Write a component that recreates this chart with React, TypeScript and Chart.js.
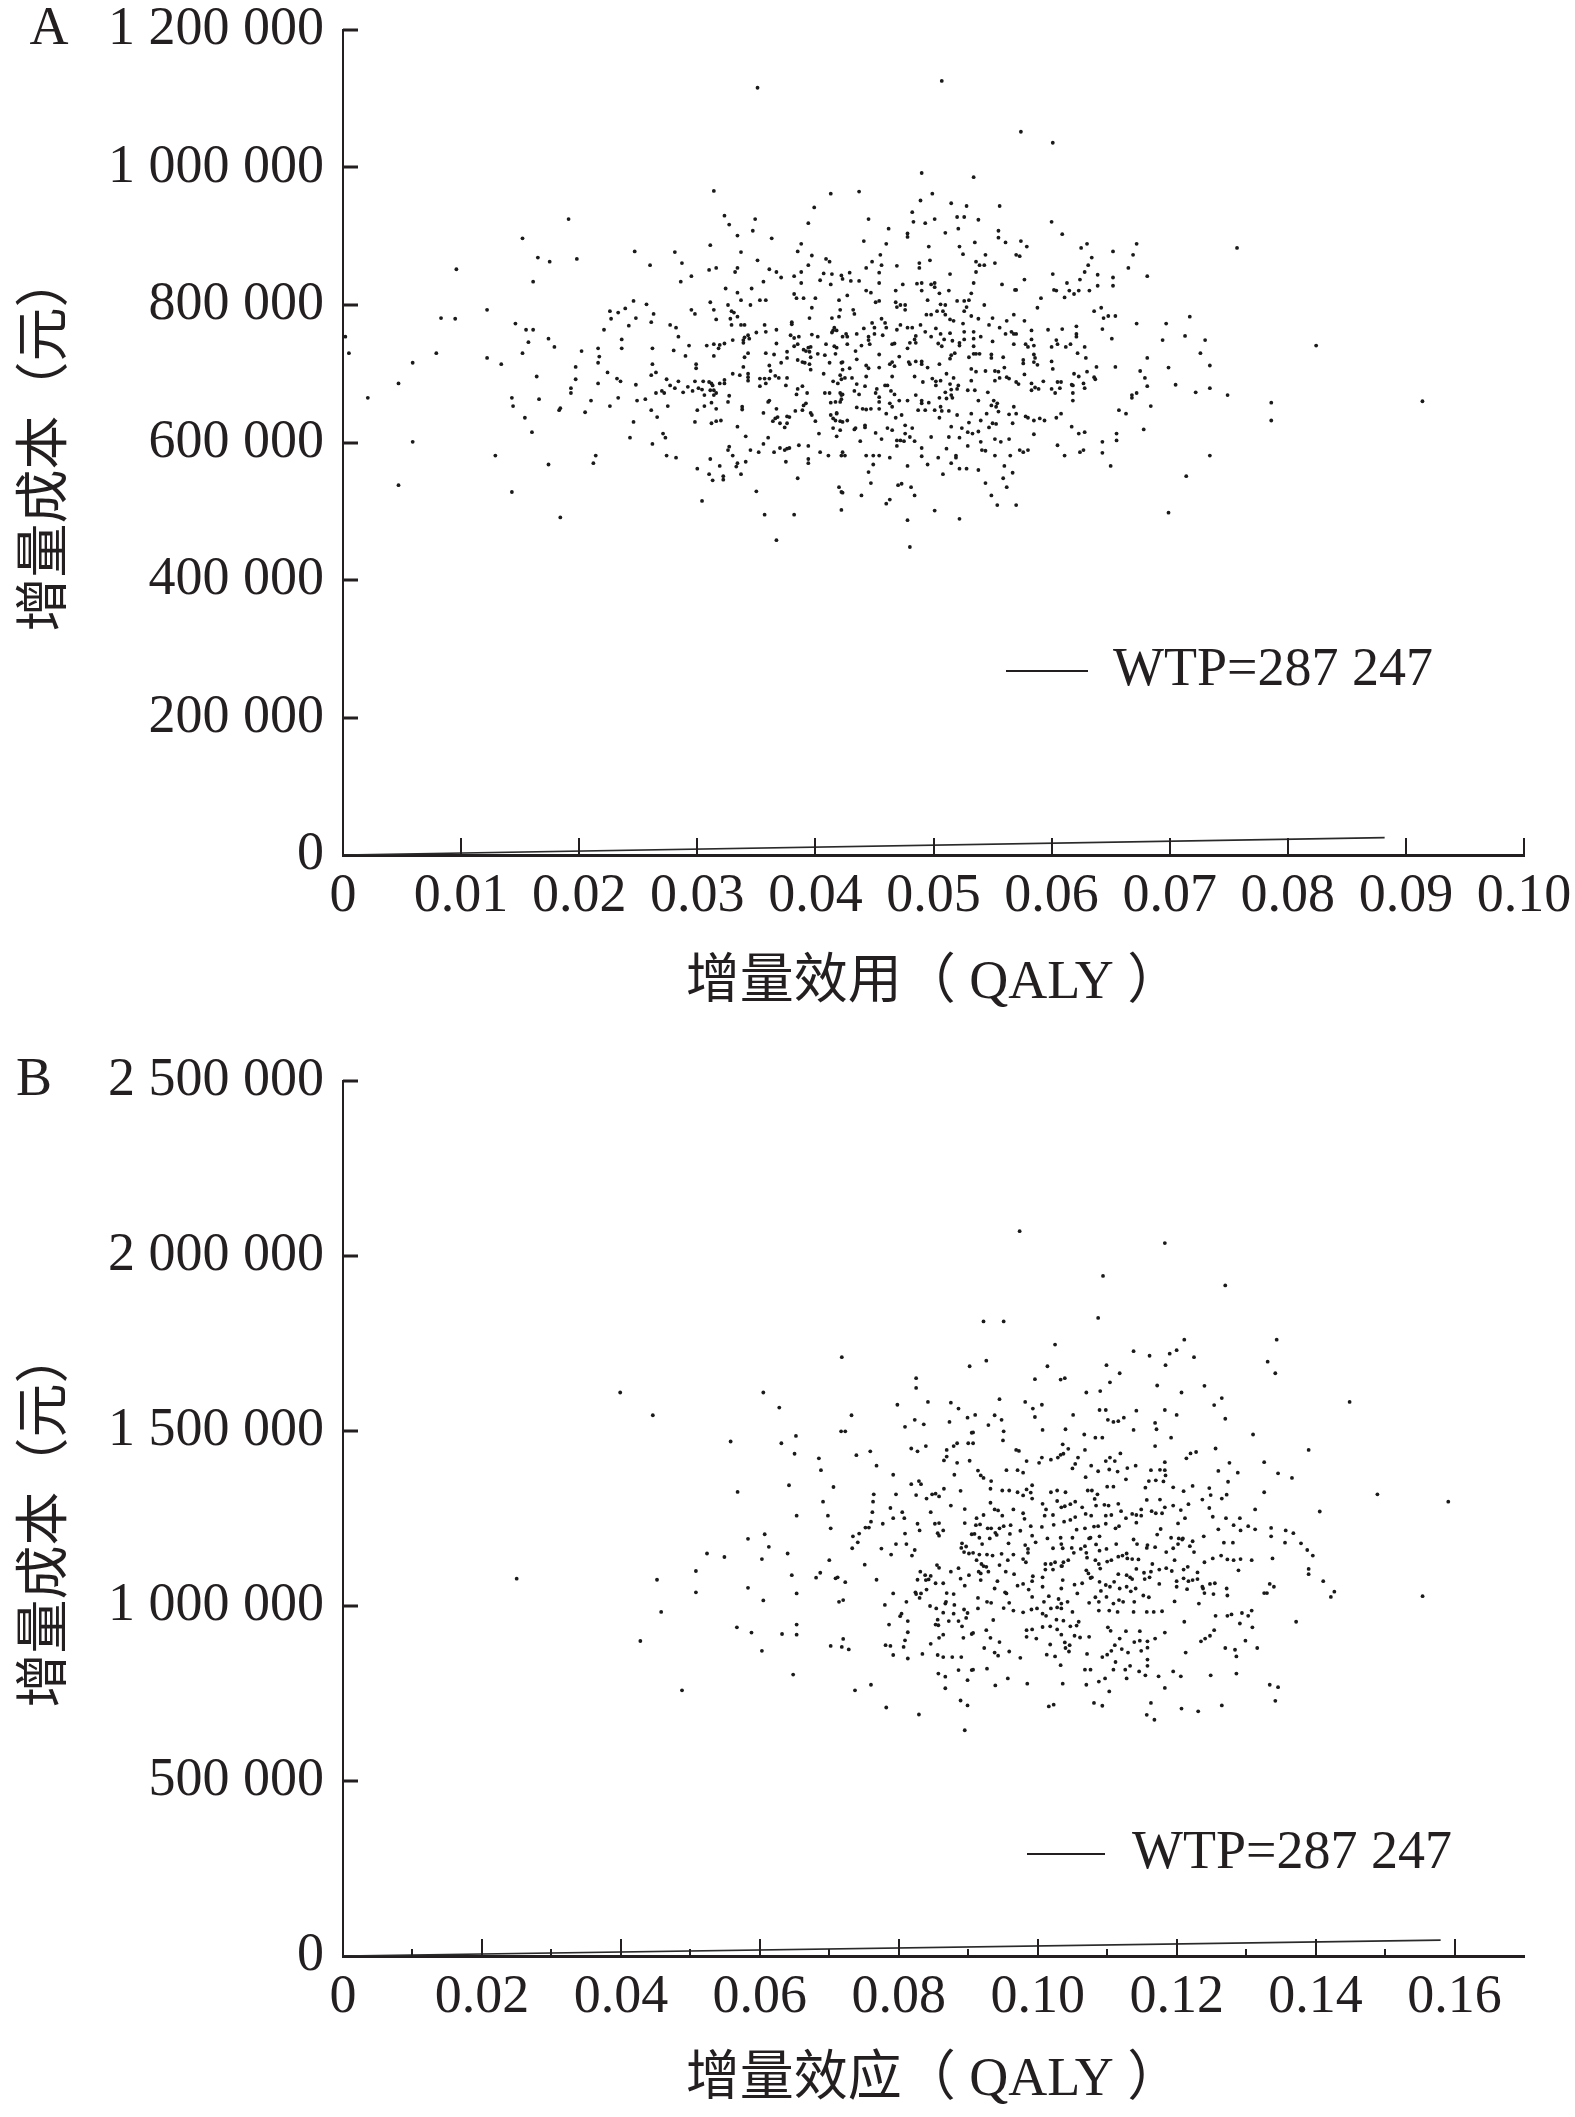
import React, { useEffect, useRef } from "react";
import { Chart, registerables } from "chart.js";

Chart.register(...registerables);

// ---------------- data ----------------
// Panel A: incremental utility (QALY) vs incremental cost (thousand yuan)
const xTicksA = [0, 0.01, 0.02, 0.03, 0.04, 0.05, 0.06, 0.07, 0.08, 0.09, 0.1];
const yTicksA = [0, 200000, 400000, 600000, 800000, 1000000, 1200000];
// Panel B: incremental effect (QALY) vs incremental cost (thousand yuan)
const xTicksB = [0, 0.02, 0.04, 0.06, 0.08, 0.1, 0.12, 0.14, 0.16];
const xMinorB = [0.01, 0.03, 0.05, 0.07, 0.09, 0.11, 0.13, 0.15];
const yTicksB = [0, 500000, 1000000, 1500000, 2000000, 2500000];

const wtpLabel = "WTP=287 247";
const wtpLineA: [number, number][] = [[0, 0], [0.0882, 25335]];
const wtpLineB: [number, number][] = [[0, 0], [0.158, 45385]];

const simA: [number, number][] = [
[0.0351,1116],[0.0314,966],[0.0413,962],[0.0399,942],[0.0323,930],[0.0191,925],[0.0349,925],[0.0394,919],[0.0327,917],[0.0347,908],[0.0334,901],[0.0152,897],[0.0363,897],[0.0311,887],[0.0388,889],[0.0385,878],[0.0247,878],[0.0281,877],[0.0337,877],[0.0165,869],[0.0198,867],[0.0351,865],[0.0175,863],[0.0287,861],[0.0260,858],[0.0409,867],[0.0397,872],[0.0394,858],[0.0412,863],[0.0096,852],[0.0310,851],[0.0316,854],[0.0334,854],[0.0332,848],[0.0295,842],[0.0361,852],[0.0367,848],[0.0371,840],[0.0382,842],[0.0388,848],[0.0407,846],[0.0414,845],[0.0422,843],[0.0161,834],[0.0286,834],[0.0356,834],[0.0388,832],[0.0404,836],[0.0413,830],[0.0324,824],[0.0346,824],[0.0334,818],[0.0382,816],[0.0384,810],[0.0390,810],[0.0400,810],[0.0353,807],[0.0358,807],[0.0337,807],[0.0345,800],[0.0326,800],[0.0311,804],[0.0420,807],[0.0246,806],[0.0257,801],[0.0122,793],[0.0295,793],[0.0314,793],[0.0397,796],[0.0421,793],[0.0329,791],[0.0331,789],[0.0263,787],[0.0298,787],[0.0083,781],[0.0095,780],[0.0226,791],[0.0233,789],[0.0239,795],[0.0227,780],[0.0248,781],[0.0334,783],[0.0328,780],[0.0316,779],[0.0395,781],[0.0414,781],[0.0420,783],[0.0002,754],[0.0146,773],[0.0261,775],[0.0277,771],[0.0282,767],[0.0242,770],[0.0380,775],[0.0380,772],[0.0329,771],[0.0337,771],[0.0340,771],[0.0357,771],[0.0416,767],[0.0418,763],[0.0155,764],[0.0161,764],[0.0221,764],[0.0350,760],[0.0358,761],[0.0367,764],[0.0343,756],[0.0340,753],[0.0344,751],[0.0379,756],[0.0382,752],[0.0386,754],[0.0397,757],[0.0402,754],[0.0409,743],[0.0414,760],[0.0415,763],[0.0284,754],[0.0330,749],[0.0339,749],[0.0339,745],[0.0174,751],[0.0236,750],[0.0157,746],[0.0179,739],[0.0308,741],[0.0314,743],[0.0319,742],[0.0323,744],[0.0318,737],[0.0293,741],[0.0367,744],[0.0382,740],[0.0385,743],[0.0390,735],[0.0394,738],[0.0396,739],[0.0392,733],[0.0395,732],[0.0416,740],[0.0418,738],[0.0005,730],[0.0079,730],[0.0152,730],[0.0202,733],[0.0216,737],[0.0236,737],[0.0262,737],[0.0280,734],[0.0314,726],[0.0290,726],[0.0358,730],[0.0365,728],[0.0376,732],[0.0343,730],[0.0340,724],[0.0402,729],[0.0408,727],[0.0417,729],[0.0396,724],[0.0122,723],[0.0059,716],[0.0134,714],[0.0217,725],[0.0216,716],[0.0262,714],[0.0299,714],[0.0299,708],[0.0371,716],[0.0376,723],[0.0385,720],[0.0389,717],[0.0391,716],[0.0395,714],[0.0412,716],[0.0422,716],[0.0361,712],[0.0339,710],[0.0197,710],[0.0396,706],[0.0423,706],[0.0224,702],[0.0265,702],[0.0261,698],[0.0362,704],[0.0407,700],[0.0421,698],[0.0330,700],[0.0336,698],[0.0343,700],[0.0343,695],[0.0343,690],[0.0353,693],[0.0357,693],[0.0361,693],[0.0366,697],[0.0369,694],[0.0376,694],[0.0047,686],[0.0164,696],[0.0197,692],[0.0232,693],[0.0235,689],[0.0216,686],[0.0248,684],[0.0274,692],[0.0284,689],[0.0298,689],[0.0305,689],[0.0310,688],[0.0312,686],[0.0313,683],[0.0319,686],[0.0323,691],[0.0323,686],[0.0353,682],[0.0358,686],[0.0375,683],[0.0415,689],[0.0419,686],[0.0422,692],[0.0193,679],[0.0193,672],[0.0277,683],[0.0281,679],[0.0292,681],[0.0296,675],[0.0301,679],[0.0304,677],[0.0311,676],[0.0314,676],[0.0316,672],[0.0288,673],[0.0265,672],[0.0270,675],[0.0272,672],[0.0385,678],[0.0389,682],[0.0393,672],[0.0408,672],[0.0412,672],[0.0421,672],[0.0422,669],[0.0021,665],[0.0143,665],[0.0166,663],[0.0210,661],[0.0233,665],[0.0249,661],[0.0256,663],[0.0306,669],[0.0314,669],[0.0327,668],[0.0384,670],[0.0422,663],[0.0144,653],[0.0184,650],[0.0183,647],[0.0226,653],[0.0261,647],[0.0275,653],[0.0300,647],[0.0306,653],[0.0312,658],[0.0316,649],[0.0326,659],[0.0338,652],[0.0338,648],[0.0360,659],[0.0361,661],[0.0367,649],[0.0383,646],[0.0390,654],[0.0392,657],[0.0413,658],[0.0417,659],[0.0421,659],[0.0418,642],[0.0205,644],[0.0154,636],[0.0266,637],[0.0298,630],[0.0312,628],[0.0316,631],[0.0320,632],[0.0356,643],[0.0366,635],[0.0368,637],[0.0370,628],[0.0374,622],[0.0376,638],[0.0378,637],[0.0376,628],[0.0364,631],[0.0389,647],[0.0396,643],[0.0397,640],[0.0400,631],[0.0413,640],[0.0415,635],[0.0417,632],[0.0421,631],[0.0418,643],[0.0246,630],[0.0160,615],[0.0334,623],[0.0341,609],[0.0360,607],[0.0356,598],[0.0403,613],[0.0415,621],[0.0418,609],[0.0421,618],[0.0243,607],[0.0271,613],[0.0273,607],[0.0059,601],[0.0262,598],[0.0129,581],[0.0214,581],[0.0212,570],[0.0174,568],[0.0274,581],[0.0282,578],[0.0327,594],[0.0326,589],[0.0330,581],[0.0345,589],[0.0352,586],[0.0365,586],[0.0370,592],[0.0374,589],[0.0376,591],[0.0378,592],[0.0386,596],[0.0394,595],[0.0404,586],[0.0411,581],[0.0422,581],[0.0311,576],[0.0334,570],[0.0341,572],[0.0394,576],[0.0394,570],[0.0375,572],[0.0300,562],[0.0319,566],[0.0333,565],[0.0337,554],[0.0310,554],[0.0322,551],[0.0313,545],[0.0322,546],[0.0385,548],[0.0047,538],[0.0143,528],[0.0350,529],[0.0420,535],[0.0422,528],[0.0304,515],[0.0422,502],[0.0184,491],[0.0357,495],[0.0382,495],[0.0367,458],
[0.0507,1126],[0.0574,1052],[0.0601,1036],[0.0490,992],[0.0534,986],[0.0437,965],[0.0499,962],[0.0489,952],[0.0515,948],[0.0528,944],[0.0556,944],[0.0482,935],[0.0445,925],[0.0483,921],[0.0493,919],[0.0501,925],[0.0520,928],[0.0526,928],[0.0538,924],[0.0600,921],[0.0462,911],[0.0521,911],[0.0478,904],[0.0478,899],[0.0510,905],[0.0555,908],[0.0555,898],[0.0561,891],[0.0609,903],[0.0441,893],[0.0460,889],[0.0496,885],[0.0522,885],[0.0535,891],[0.0574,893],[0.0579,885],[0.0625,883],[0.0630,889],[0.0652,878],[0.0672,889],[0.0757,883],[0.0455,873],[0.0525,874],[0.0544,873],[0.0570,873],[0.0573,871],[0.0669,873],[0.0634,869],[0.0448,863],[0.0456,858],[0.0469,857],[0.0488,861],[0.0488,854],[0.0497,865],[0.0536,863],[0.0539,858],[0.0543,858],[0.0552,861],[0.0443,854],[0.0631,858],[0.0665,854],[0.0429,847],[0.0454,847],[0.0514,845],[0.0536,848],[0.0601,845],[0.0628,848],[0.0639,844],[0.0652,840],[0.0681,842],[0.0423,838],[0.0430,835],[0.0437,835],[0.0454,832],[0.0474,830],[0.0486,831],[0.0490,832],[0.0498,830],[0.0501,832],[0.0501,826],[0.0534,832],[0.0558,830],[0.0577,837],[0.0613,832],[0.0624,837],[0.0639,828],[0.0652,828],[0.0602,822],[0.0604,821],[0.0443,821],[0.0447,818],[0.0468,821],[0.0490,821],[0.0505,817],[0.0513,821],[0.0532,817],[0.0569,822],[0.0570,822],[0.0615,821],[0.0619,816],[0.0623,821],[0.0632,821],[0.0611,811],[0.0591,810],[0.0427,814],[0.0451,804],[0.0454,806],[0.0468,804],[0.0469,797],[0.0472,800],[0.0476,800],[0.0476,793],[0.0495,807],[0.0506,801],[0.0510,800],[0.0520,806],[0.0526,806],[0.0530,807],[0.0528,797],[0.0543,800],[0.0588,796],[0.0432,793],[0.0433,787],[0.0526,791],[0.0508,791],[0.0503,791],[0.0498,786],[0.0494,786],[0.0510,786],[0.0636,791],[0.0642,796],[0.0644,781],[0.0648,784],[0.0654,784],[0.0717,783],[0.0448,774],[0.0450,767],[0.0456,780],[0.0459,774],[0.0460,767],[0.0532,784],[0.0538,780],[0.0514,779],[0.0517,777],[0.0550,781],[0.0556,767],[0.0562,777],[0.0568,786],[0.0577,777],[0.0547,771],[0.0525,773],[0.0441,766],[0.0469,764],[0.0472,771],[0.0478,767],[0.0482,767],[0.0489,771],[0.0502,766],[0.0426,758],[0.0435,758],[0.0423,754],[0.0427,754],[0.0445,754],[0.0450,758],[0.0457,756],[0.0485,755],[0.0493,761],[0.0498,754],[0.0506,758],[0.0514,759],[0.0526,761],[0.0534,761],[0.0540,754],[0.0561,758],[0.0566,761],[0.0568,758],[0.0570,758],[0.0583,763],[0.0597,764],[0.0609,765],[0.0621,769],[0.0621,758],[0.0643,765],[0.0672,773],[0.0697,773],[0.0445,749],[0.0484,750],[0.0509,750],[0.0516,748],[0.0522,745],[0.0526,750],[0.0534,751],[0.0550,747],[0.0583,750],[0.0604,749],[0.0605,743],[0.0616,743],[0.0621,754],[0.0651,751],[0.0694,749],[0.0713,755],[0.0730,749],[0.0427,743],[0.0439,741],[0.0446,743],[0.0465,743],[0.0467,744],[0.0480,745],[0.0485,745],[0.0504,744],[0.0507,740],[0.0522,741],[0.0534,740],[0.0568,743],[0.0578,743],[0.0580,739],[0.0585,741],[0.0600,739],[0.0612,739],[0.0628,739],[0.0478,737],[0.0434,733],[0.0454,728],[0.0515,727],[0.0518,730],[0.0530,724],[0.0534,729],[0.0536,729],[0.0539,729],[0.0549,728],[0.0549,723],[0.0559,724],[0.0585,728],[0.0586,723],[0.0622,730],[0.0726,730],[0.0435,721],[0.0423,717],[0.0465,717],[0.0463,714],[0.0467,711],[0.0443,712],[0.0445,708],[0.0454,709],[0.0471,725],[0.0479,717],[0.0480,714],[0.0485,718],[0.0490,718],[0.0490,714],[0.0495,709],[0.0505,714],[0.0514,722],[0.0532,707],[0.0536,703],[0.0544,704],[0.0552,704],[0.0555,703],[0.0560,709],[0.0576,720],[0.0576,715],[0.0585,717],[0.0588,713],[0.0600,718],[0.0601,707],[0.0629,723],[0.0638,710],[0.0654,710],[0.0675,704],[0.0681,723],[0.0699,709],[0.0734,712],[0.0425,694],[0.0429,708],[0.0431,694],[0.0443,696],[0.0465,696],[0.0484,696],[0.0491,688],[0.0499,693],[0.0502,689],[0.0506,690],[0.0511,700],[0.0517,694],[0.0532,690],[0.0552,690],[0.0556,694],[0.0562,695],[0.0564,693],[0.0577,699],[0.0570,688],[0.0572,685],[0.0583,686],[0.0586,680],[0.0593,689],[0.0605,688],[0.0608,688],[0.0619,700],[0.0623,696],[0.0630,703],[0.0636,695],[0.0637,692],[0.0679,694],[0.0618,683],[0.0627,686],[0.0628,679],[0.0617,684],[0.0435,685],[0.0442,682],[0.0452,678],[0.0459,683],[0.0461,683],[0.0502,683],[0.0514,685],[0.0515,677],[0.0520,678],[0.0521,683],[0.0510,673],[0.0529,676],[0.0535,676],[0.0546,673],[0.0583,676],[0.0589,678],[0.0600,678],[0.0603,672],[0.0607,679],[0.0618,672],[0.0681,682],[0.0705,684],[0.0722,673],[0.0734,679],[0.0749,669],[0.0672,672],[0.0668,669],[0.0668,665],[0.0423,670],[0.0433,675],[0.0437,670],[0.0451,672],[0.0454,666],[0.0464,675],[0.0467,670],[0.0485,669],[0.0478,661],[0.0471,661],[0.0490,661],[0.0490,657],[0.0496,658],[0.0505,665],[0.0511,664],[0.0516,665],[0.0515,669],[0.0538,661],[0.0551,661],[0.0554,657],[0.0618,661],[0.0786,658],[0.0435,651],[0.0440,649],[0.0443,648],[0.0447,649],[0.0454,649],[0.0454,659],[0.0460,642],[0.0463,657],[0.0465,652],[0.0487,647],[0.0493,647],[0.0501,647],[0.0506,652],[0.0507,646],[0.0513,646],[0.0520,640],[0.0532,642],[0.0545,642],[0.0549,654],[0.0553,652],[0.0555,645],[0.0564,641],[0.0568,652],[0.0570,642],[0.0578,638],[0.0580,636],[0.0585,632],[0.0590,635],[0.0594,632],[0.0604,636],[0.0608,642],[0.0657,647],[0.0663,642],[0.0684,653],[0.0786,632],[0.0423,630],[0.0427,632],[0.0433,619],[0.0434,621],[0.0442,625],[0.0442,622],[0.0451,614],[0.0456,605],[0.0461,621],[0.0465,618],[0.0468,636],[0.0473,640],[0.0469,603],[0.0472,603],[0.0475,602],[0.0476,625],[0.0476,613],[0.0480,608],[0.0482,621],[0.0484,602],[0.0498,608],[0.0505,636],[0.0515,623],[0.0513,608],[0.0522,607],[0.0524,621],[0.0529,615],[0.0530,629],[0.0533,613],[0.0538,616],[0.0540,632],[0.0540,601],[0.0547,622],[0.0550,628],[0.0552,605],[0.0553,627],[0.0557,601],[0.0564,605],[0.0567,628],[0.0585,612],[0.0617,623],[0.0623,613],[0.0628,615],[0.0643,601],[0.0655,603],[0.0655,613],[0.0678,619],[0.0423,586],[0.0425,581],[0.0438,602],[0.0443,581],[0.0449,581],[0.0449,568],[0.0454,581],[0.0463,578],[0.0469,595],[0.0490,592],[0.0490,580],[0.0495,568],[0.0504,578],[0.0511,591],[0.0519,581],[0.0519,578],[0.0515,570],[0.0529,595],[0.0541,589],[0.0544,588],[0.0552,581],[0.0565,581],[0.0573,589],[0.0576,586],[0.0580,589],[0.0605,596],[0.0611,581],[0.0624,586],[0.0627,589],[0.0643,585],[0.0650,566],[0.0734,581],[0.0445,557],[0.0447,541],[0.0423,527],[0.0439,523],[0.0460,511],[0.0463,517],[0.0470,538],[0.0473,540],[0.0478,566],[0.0481,535],[0.0484,523],[0.0508,554],[0.0522,562],[0.0528,562],[0.0538,560],[0.0560,566],[0.0567,556],[0.0559,548],[0.0544,541],[0.0562,535],[0.0549,523],[0.0554,509],[0.0570,509],[0.0714,551],[0.0501,501],[0.0478,487],[0.0522,489],[0.0699,498],[0.0480,448],[0.0824,741],[0.0914,660]
];

const simB: [number, number][] = [
[0.0718,1711],[0.0902,1685],[0.0825,1651],[0.0825,1623],[0.0399,1610],[0.0605,1610],[0.0628,1567],[0.0798,1575],[0.0842,1583],[0.0875,1581],[0.0886,1564],[0.0446,1545],[0.0732,1545],[0.0899,1538],[0.0823,1532],[0.0836,1519],[0.0809,1512],[0.0873,1526],[0.0905,1495],[0.0717,1499],[0.0723,1499],[0.0652,1486],[0.0558,1470],[0.0631,1465],[0.0884,1465],[0.0900,1465],[0.0879,1457],[0.0839,1457],[0.0818,1450],[0.0827,1442],[0.0869,1446],[0.0759,1442],[0.0739,1431],[0.0650,1435],[0.0685,1422],[0.0869,1427],[0.0865,1416],[0.0902,1415],[0.0884,1409],[0.0768,1401],[0.0688,1388],[0.0792,1375],[0.0880,1375],[0.0642,1345],[0.0706,1340],[0.0818,1348],[0.0829,1357],[0.0832,1348],[0.0568,1326],[0.0865,1335],[0.0889,1329],[0.0764,1319],[0.0796,1319],[0.0825,1317],[0.0840,1307],[0.0848,1319],[0.0853,1321],[0.0858,1313],[0.0691,1298],[0.0763,1298],[0.0788,1280],[0.0875,1287],[0.0895,1277],[0.0653,1258],[0.0698,1258],[0.0762,1268],[0.0805,1268],[0.0846,1268],[0.0792,1251],[0.0808,1251],[0.0760,1241],[0.0777,1235],[0.0827,1235],[0.0852,1235],[0.0858,1237],[0.0895,1237],[0.0702,1222],[0.0752,1224],[0.0757,1224],[0.0830,1216],[0.0864,1216],[0.0856,1208],[0.0858,1201],[0.0809,1207],[0.0743,1207],[0.0905,1205],[0.0583,1192],[0.0607,1205],[0.0734,1199],[0.0613,1169],[0.0741,1182],[0.0733,1165],[0.0775,1164],[0.0796,1177],[0.0811,1177],[0.0823,1160],[0.0789,1147],[0.0819,1144],[0.0891,1179],[0.0890,1166],[0.0897,1170],[0.0894,1154],[0.0901,1150],[0.0524,1150],[0.0549,1140],[0.0640,1150],[0.0603,1134],[0.0700,1131],[0.0751,1118],[0.0855,1117],[0.0858,1109],[0.0886,1108],[0.0831,1098],[0.0875,1098],[0.0838,1088],[0.0846,1086],[0.0839,1074],[0.0843,1076],[0.0901,1088],[0.0508,1100],[0.0250,1078],[0.0452,1075],[0.0646,1088],[0.0687,1095],[0.0681,1081],[0.0709,1079],[0.0712,1082],[0.0723,1068],[0.0768,1075],[0.0827,1075],[0.0853,1065],[0.0864,1065],[0.0889,1078],[0.0895,1058],[0.0508,1039],[0.0583,1052],[0.0653,1036],[0.0792,1036],[0.0824,1039],[0.0825,1034],[0.0832,1036],[0.0830,1023],[0.0840,1047],[0.0869,1037],[0.0879,1034],[0.0605,1016],[0.0714,1012],[0.0720,1017],[0.0811,1012],[0.0780,1003],[0.0845,1000],[0.0854,993],[0.0867,1007],[0.0868,1012],[0.0880,1003],[0.0894,990],[0.0899,980],[0.0458,983],[0.0804,978],[0.0802,971],[0.0864,981],[0.0879,978],[0.0856,961],[0.0872,957],[0.0886,957],[0.0897,966],[0.0813,957],[0.0786,947],[0.0853,947],[0.0857,945],[0.0891,942],[0.0567,939],[0.0588,924],[0.0632,920],[0.0653,947],[0.0653,918],[0.0813,925],[0.0864,918],[0.0858,909],[0.0893,909],[0.0905,920],[0.0428,900],[0.0720,906],[0.0809,902],[0.0702,886],[0.0718,883],[0.0728,876],[0.0781,888],[0.0788,886],[0.0807,883],[0.0846,892],[0.0603,872],[0.0834,863],[0.0792,860],[0.0813,850],[0.0856,860],[0.0864,854],[0.0877,854],[0.0890,854],[0.0648,804],[0.0857,807],[0.0867,798],[0.0886,817],[0.0905,817],[0.0899,788],[0.0488,759],[0.0737,759],[0.0760,775],[0.0867,765],[0.0889,730],[0.0899,716],[0.0782,710],[0.0829,690],[0.0895,645],
[0.0974,2071],[0.1183,2037],[0.1094,1943],[0.1270,1916],[0.1087,1823],[0.0922,1813],[0.0951,1813],[0.1025,1747],[0.1211,1761],[0.1344,1761],[0.1138,1728],[0.1161,1715],[0.1190,1721],[0.1200,1731],[0.1225,1711],[0.1331,1698],[0.1342,1665],[0.0926,1701],[0.1014,1685],[0.1099,1688],[0.1184,1688],[0.1118,1665],[0.0996,1648],[0.1033,1647],[0.1039,1651],[0.1104,1639],[0.1172,1630],[0.1240,1629],[0.1070,1610],[0.1090,1614],[0.1207,1610],[0.0945,1591],[0.0982,1583],[0.1006,1575],[0.0993,1564],[0.1265,1594],[0.1254,1574],[0.1449,1583],[0.0910,1546],[0.0938,1545],[0.0948,1532],[0.0996,1540],[0.1051,1546],[0.1089,1560],[0.1098,1560],[0.1142,1558],[0.1183,1560],[0.1200,1546],[0.1101,1532],[0.1109,1526],[0.1116,1528],[0.1124,1538],[0.0929,1517],[0.1270,1535],[0.1169,1523],[0.0907,1496],[0.0951,1499],[0.1007,1503],[0.1040,1505],[0.1138,1503],[0.1171,1505],[0.1067,1490],[0.1083,1481],[0.1093,1481],[0.1192,1481],[0.1310,1490],[0.0950,1473],[0.0907,1465],[0.1169,1457],[0.0969,1446],[0.0973,1443],[0.1036,1462],[0.1044,1449],[0.1068,1446],[0.1256,1450],[0.1390,1446],[0.0984,1414],[0.1002,1409],[0.1006,1424],[0.1019,1418],[0.1029,1424],[0.1033,1432],[0.1037,1435],[0.1058,1424],[0.1054,1406],[0.1077,1401],[0.1098,1414],[0.1104,1424],[0.1111,1414],[0.1119,1436],[0.1129,1394],[0.1141,1401],[0.1183,1411],[0.1214,1422],[0.1220,1436],[0.1228,1440],[0.1276,1409],[0.1326,1411],[0.0914,1387],[0.0918,1373],[0.0922,1366],[0.0955,1388],[0.0971,1388],[0.0979,1381],[0.1050,1393],[0.1069,1368],[0.1087,1385],[0.1103,1390],[0.1115,1384],[0.1127,1362],[0.1163,1388],[0.1176,1389],[0.1183,1388],[0.1184,1373],[0.1260,1386],[0.1288,1381],[0.1346,1379],[0.1366,1366],[0.0933,1357],[0.0932,1335],[0.0949,1330],[0.0959,1330],[0.0971,1325],[0.0979,1316],[0.0984,1333],[0.0992,1345],[0.0992,1307],[0.0990,1324],[0.1019,1325],[0.1028,1330],[0.1040,1325],[0.1072,1330],[0.1078,1330],[0.1086,1319],[0.1100,1341],[0.1109,1341],[0.1155,1338],[0.1160,1357],[0.1170,1359],[0.1181,1356],[0.1195,1339],[0.1210,1328],[0.1223,1343],[0.1247,1337],[0.1249,1317],[0.1265,1307],[0.1272,1318],[0.1274,1355],[0.1326,1325],[0.1489,1319],[0.1591,1298],[0.0932,1295],[0.0938,1276],[0.0943,1273],[0.0965,1276],[0.1007,1292],[0.1012,1276],[0.1028,1300],[0.1034,1282],[0.1039,1285],[0.1047,1291],[0.1054,1298],[0.1064,1282],[0.1069,1263],[0.1082,1306],[0.1084,1287],[0.1096,1289],[0.1102,1287],[0.1116,1292],[0.1120,1271],[0.1136,1263],[0.1142,1260],[0.1149,1276],[0.1149,1258],[0.1157,1303],[0.1164,1271],[0.1170,1265],[0.1176,1304],[0.1183,1282],[0.1195,1287],[0.1206,1274],[0.1217,1291],[0.1237,1304],[0.1247,1280],[0.1313,1276],[0.1406,1270],[0.0912,1251],[0.0922,1260],[0.0949,1258],[0.0979,1265],[0.0981,1249],[0.1010,1258],[0.1022,1260],[0.1038,1241],[0.1047,1246],[0.1054,1254],[0.1077,1258],[0.1098,1258],[0.1106,1260],[0.1127,1251],[0.1142,1238],[0.1179,1265],[0.1202,1236],[0.1212,1251],[0.1252,1255],[0.1271,1251],[0.1291,1251],[0.0911,1231],[0.0917,1233],[0.0928,1222],[0.0933,1222],[0.0945,1222],[0.0951,1228],[0.0961,1231],[0.0975,1215],[0.0990,1228],[0.1006,1226],[0.1023,1232],[0.1056,1218],[0.1068,1222],[0.1081,1227],[0.1087,1228],[0.1098,1235],[0.1112,1222],[0.1117,1228],[0.1177,1220],[0.1260,1219],[0.1282,1231],[0.1292,1216],[0.1303,1228],[0.1313,1219],[0.1336,1223],[0.1357,1216],[0.1368,1208],[0.0909,1206],[0.0916,1195],[0.0931,1193],[0.0939,1209],[0.0941,1203],[0.0960,1206],[0.0992,1201],[0.1014,1193],[0.1033,1195],[0.1050,1195],[0.1074,1193],[0.1076,1195],[0.1089,1199],[0.1172,1204],[0.1192,1195],[0.1203,1193],[0.1209,1193],[0.1223,1185],[0.1239,1199],[0.1336,1199],[0.0920,1177],[0.0958,1179],[0.0982,1174],[0.0986,1163],[0.0997,1182],[0.1022,1165],[0.1034,1177],[0.1036,1165],[0.1049,1166],[0.1062,1163],[0.1068,1171],[0.1084,1176],[0.1099,1163],[0.1113,1177],[0.1138,1190],[0.1143,1177],[0.1158,1174],[0.1169,1168],[0.1195,1165],[0.1202,1177],[0.1208,1190],[0.1219,1171],[0.1268,1181],[0.1281,1181],[0.1356,1181],[0.1379,1179],[0.0907,1152],[0.0916,1147],[0.0927,1147],[0.0935,1144],[0.0948,1149],[0.0965,1147],[0.0986,1152],[0.1052,1152],[0.1070,1152],[0.1089,1158],[0.1128,1150],[0.1157,1166],[0.1185,1154],[0.1225,1154],[0.0912,1131],[0.0919,1120],[0.0922,1114],[0.0926,1112],[0.0945,1117],[0.0957,1131],[0.0979,1134],[0.0983,1125],[0.1011,1120],[0.1019,1120],[0.1025,1125],[0.1034,1114],[0.1037,1125],[0.1044,1131],[0.1071,1138],[0.1083,1131],[0.1088,1120],[0.1100,1127],[0.1106,1131],[0.1116,1141],[0.1122,1144],[0.1129,1136],[0.1136,1134],[0.1145,1133],[0.1165,1120],[0.1197,1131],[0.1240,1125],[0.1252,1136],[0.1264,1144],[0.1273,1133],[0.1282,1131],[0.1292,1134],[0.1308,1131],[0.1338,1136],[0.1388,1160],[0.1396,1144],[0.0915,1098],[0.0918,1093],[0.0929,1098],[0.0954,1098],[0.0966,1091],[0.0993,1085],[0.1007,1082],[0.1011,1104],[0.1022,1104],[0.1035,1114],[0.1070,1102],[0.1073,1093],[0.1076,1080],[0.1090,1107],[0.1116,1091],[0.1128,1088],[0.1133,1082],[0.1142,1106],[0.1153,1095],[0.1163,1098],[0.1175,1104],[0.1185,1108],[0.1193,1100],[0.1210,1104],[0.1216,1112],[0.1230,1096],[0.1289,1102],[0.1390,1106],[0.1390,1091],[0.0918,1074],[0.0942,1071],[0.0971,1058],[0.0979,1063],[0.0992,1071],[0.1007,1055],[0.1036,1074],[0.1053,1061],[0.1064,1065],[0.1078,1082],[0.1089,1069],[0.1098,1060],[0.1110,1069],[0.1136,1077],[0.1154,1077],[0.1161,1082],[0.1175,1063],[0.1200,1071],[0.1210,1079],[0.1217,1071],[0.1223,1074],[0.1230,1077],[0.1237,1055],[0.1248,1063],[0.1255,1065],[0.1272,1050],[0.1334,1063],[0.1340,1055],[0.1411,1071],[0.0938,1050],[0.0953,1039],[0.0987,1047],[0.1034,1050],[0.1057,1036],[0.1091,1043],[0.1104,1055],[0.1118,1050],[0.1128,1055],[0.1134,1042],[0.1141,1050],[0.1152,1030],[0.1160,1025],[0.1200,1055],[0.1215,1048],[0.1238,1050],[0.1240,1037],[0.1253,1034],[0.1273,1030],[0.1326,1037],[0.1330,1037],[0.1422,1026],[0.1427,1041],[0.1554,1028],[0.0914,1023],[0.0927,1012],[0.0933,1009],[0.0955,1036],[0.0959,1009],[0.0992,1026],[0.1009,1012],[0.1016,1028],[0.1030,1020],[0.1034,1007],[0.1043,1012],[0.1083,1025],[0.1088,1012],[0.1099,1026],[0.1109,1007],[0.1117,1017],[0.1123,1012],[0.1139,1012],[0.1197,1013],[0.1232,1007],[0.0914,993],[0.0951,994],[0.0965,987],[0.0979,982],[0.0991,990],[0.0999,993],[0.1007,978],[0.1019,993],[0.1028,996],[0.1034,993],[0.1050,983],[0.1074,1009],[0.1088,987],[0.1103,987],[0.1115,983],[0.1138,983],[0.1157,983],[0.1167,983],[0.1179,985],[0.1256,972],[0.1273,972],[0.1279,976],[0.1294,980],[0.1303,972],[0.1308,987],[0.1012,972],[0.1027,961],[0.1037,958],[0.1059,955],[0.0936,960],[0.1211,955],[0.1291,950],[0.1372,955],[0.0907,923],[0.0926,931],[0.0932,909],[0.0984,931],[0.0992,933],[0.1007,940],[0.1018,942],[0.1028,933],[0.1034,918],[0.1047,942],[0.1056,944],[0.1061,910],[0.1074,912],[0.1101,939],[0.1105,929],[0.1127,928],[0.1147,928],[0.1183,924],[0.1254,931],[0.1309,939],[0.0984,912],[0.0998,907],[0.0945,897],[0.1018,890],[0.1039,896],[0.1046,888],[0.1053,915],[0.1118,907],[0.1139,897],[0.1147,901],[0.1158,899],[0.1169,907],[0.1235,899],[0.1241,907],[0.1248,915],[0.1299,901],[0.0923,880],[0.0938,867],[0.0943,858],[0.0959,870],[0.0975,852],[0.1013,861],[0.1025,856],[0.1040,880],[0.1045,870],[0.1071,863],[0.1093,854],[0.1100,861],[0.1106,872],[0.1111,888],[0.1121,877],[0.1130,867],[0.1149,872],[0.1158,881],[0.1213,867],[0.1270,880],[0.1284,875],[0.1316,880],[0.1286,856],[0.0907,818],[0.0927,821],[0.1033,831],[0.1068,818],[0.1076,818],[0.1109,818],[0.1112,840],[0.1126,818],[0.1133,829],[0.1146,813],[0.1158,847],[0.1158,829],[0.1195,813],[0.1206,799],[0.1174,799],[0.1155,802],[0.1128,793],[0.1088,784],[0.1097,793],[0.0957,793],[0.0939,773],[0.0985,778],[0.1036,778],[0.1070,775],[0.1103,756],[0.1183,766],[0.1249,802],[0.1286,807],[0.1334,775],[0.1346,768],[0.1016,713],[0.1023,718],[0.1081,723],[0.1093,715],[0.1163,723],[0.1157,689],[0.1168,675],[0.1207,707],[0.1231,699],[0.1265,716],[0.1342,729]
];

// ---------------- styling ----------------
const INK = "#231f20";
const SERIF = "'Liberation Serif', 'Times New Roman', serif";
const TITLE_FONT = "'Liberation Serif', 'Noto Sans CJK SC', serif";

function fmtY(v: number) {
  return v === 0 ? "0" : String(Math.round(v)).replace(/\B(?=(\d{3})+(?!\d))/g, " ");
}
function fmtX(v: number) {
  return v === 0 ? "0" : v.toFixed(2);
}

const decor = {
  id: "decor",
  afterDraw(chart: any, _args: any, opts: any) {
    const { ctx, chartArea: ca, scales } = chart;
    const xs = scales.x;
    const ys = scales.y;
    ctx.save();
    ctx.strokeStyle = INK;
    ctx.lineCap = "butt";
    // inward x ticks
    ctx.lineWidth = 2;
    ctx.beginPath();
    for (const t of xs.ticks) {
      const px = Math.round(xs.getPixelForValue(t.value));
      if (px <= ca.left + 2) continue;
      ctx.moveTo(px, ca.bottom);
      ctx.lineTo(px, ca.bottom - opts.majorLenX);
    }
    for (const v of opts.minorX) {
      const px = Math.round(xs.getPixelForValue(v));
      ctx.moveTo(px, ca.bottom);
      ctx.lineTo(px, ca.bottom - opts.minorLenX);
    }
    ctx.stroke();
    // inward y ticks
    ctx.lineWidth = 3;
    ctx.beginPath();
    for (const t of ys.ticks) {
      const py = Math.round(ys.getPixelForValue(t.value));
      if (py >= ca.bottom - 2) continue;
      ctx.moveTo(ca.left, py);
      ctx.lineTo(ca.left + opts.lenY, py);
    }
    ctx.stroke();
    // legend
    const L = opts.legend;
    ctx.lineWidth = 2;
    ctx.beginPath();
    ctx.moveTo(L.x1, L.y);
    ctx.lineTo(L.x2, L.y);
    ctx.stroke();
    ctx.fillStyle = INK;
    ctx.font = `54px ${SERIF}`;
    ctx.textBaseline = "middle";
    ctx.textAlign = "left";
    ctx.fillText(chart.data.datasets[1].label, L.tx, L.y);
    // panel letter
    ctx.textAlign = "center";
    ctx.fillText(opts.panel, opts.px, opts.py);
    ctx.restore();
  },
};

type PanelProps = {
  top: number;
  height: number;
  padTop: number;
  xAxisHeight: number;
  xMax: number;
  yMax: number;
  xTicks: number[];
  yTicks: number[];
  xMinor: number[];
  sim: [number, number][];
  wtp: [number, number][];
  xTitle: string;
  xTitlePadBottom: number;
  legend: { x1: number; x2: number; tx: number; y: number };
  panel: string;
  px: number;
  py: number;
};

function Panel(p: PanelProps) {
  const ref = useRef<HTMLCanvasElement | null>(null);
  useEffect(() => {
    if (!ref.current) return;
    const tickFont = { family: SERIF, size: 54, lineHeight: 1 };
    const titleFont = { family: TITLE_FONT, size: 54 };
    const chart = new Chart(ref.current, {
      type: "scatter",
      data: {
        datasets: [
          {
            label: "sim",
            data: p.sim.map(([e, c]) => ({ x: e, y: c * 1000 })),
            pointRadius: 1.9,
            pointBorderWidth: 0,
            pointBackgroundColor: "#1a1a1a",
            pointStyle: "circle",
          },
          {
            label: wtpLabel,
            data: p.wtp.map(([e, c]) => ({ x: e, y: c })),
            showLine: true,
            borderColor: "#2a2a2a",
            borderWidth: 1.6,
            pointRadius: 0,
            fill: false,
          },
        ],
      } as any,
      options: {
        animation: false,
        responsive: false,
        devicePixelRatio: 1,
        events: [],
        layout: { autoPadding: false, padding: { top: p.padTop, right: 51, left: 0, bottom: 0 } },
        plugins: {
          legend: { display: false },
          tooltip: { enabled: false },
          decor: {
            majorLenX: 17,
            minorLenX: 7,
            lenY: 15,
            minorX: p.xMinor,
            legend: p.legend,
            panel: p.panel,
            px: p.px,
            py: p.py,
          },
        } as any,
        scales: {
          x: {
            type: "linear",
            min: 0,
            max: p.xMax,
            afterBuildTicks: (s: any) => {
              s.ticks = p.xTicks.map((v) => ({ value: v }));
            },
            afterFit: (s: any) => {
              s.height = p.xAxisHeight;
              s.paddingLeft = 0;
              s.paddingRight = 0;
            },
            grid: { display: false, drawTicks: false },
            border: { display: true, color: INK, width: 3 },
            ticks: {
              callback: (v: any) => fmtX(Number(v)),
              font: tickFont,
              color: INK,
              padding: 15,
              maxRotation: 0,
              autoSkip: false,
            },
            title: {
              display: true,
              text: p.xTitle,
              font: titleFont,
              color: INK,
              padding: { top: 0, bottom: p.xTitlePadBottom },
            },
          },
          y: {
            type: "linear",
            min: 0,
            max: p.yMax,
            afterBuildTicks: (s: any) => {
              s.ticks = p.yTicks.map((v) => ({ value: v }));
            },
            afterFit: (s: any) => {
              s.width = 343;
              s.paddingTop = 0;
              s.paddingBottom = 0;
            },
            grid: { display: false, drawTicks: false },
            border: { display: true, color: INK, width: 2 },
            ticks: {
              callback: (v: any) => fmtY(Number(v)),
              font: tickFont,
              color: INK,
              padding: 19,
              autoSkip: false,
            },
            title: {
              display: true,
              text: "增量成本（元）",
              font: titleFont,
              color: INK,
              padding: { top: 15, bottom: 0 },
            },
          },
        },
      } as any,
      plugins: [decor as any],
    });
    return () => chart.destroy();
  }, []);
  return (
    <canvas
      ref={ref}
      width={1575}
      height={p.height}
      style={{ position: "absolute", left: 0, top: p.top, width: 1575, height: p.height }}
    />
  );
}

export default function App() {
  return (
    <div
      style={{
        position: "absolute",
        left: 0,
        top: 0,
        width: 1575,
        height: 2117,
        background: "#ffffff",
        overflow: "hidden",
      }}
    >
      <Panel
        top={0}
        height={1030}
        padTop={30}
        xAxisHeight={175}
        xMax={0.1}
        yMax={1200000}
        xTicks={xTicksA}
        yTicks={yTicksA}
        xMinor={[]}
        sim={simA}
        wtp={wtpLineA}
        xTitle="增量效用（ QALY ）"
        xTitlePadBottom={14}
        legend={{ x1: 1006, x2: 1088, tx: 1113, y: 671 }}
        panel="A"
        px={49}
        py={30}
      />
      <Panel
        top={1030}
        height={1087}
        padTop={51}
        xAxisHeight={161}
        xMax={0.17}
        yMax={2500000}
        xTicks={xTicksB}
        yTicks={yTicksB}
        xMinor={xMinorB}
        sim={simB}
        wtp={wtpLineB}
        xTitle="增量效应（ QALY ）"
        xTitlePadBottom={4}
        legend={{ x1: 1027, x2: 1105, tx: 1132, y: 824 }}
        panel="B"
        px={34}
        py={51}
      />
    </div>
  );
}
